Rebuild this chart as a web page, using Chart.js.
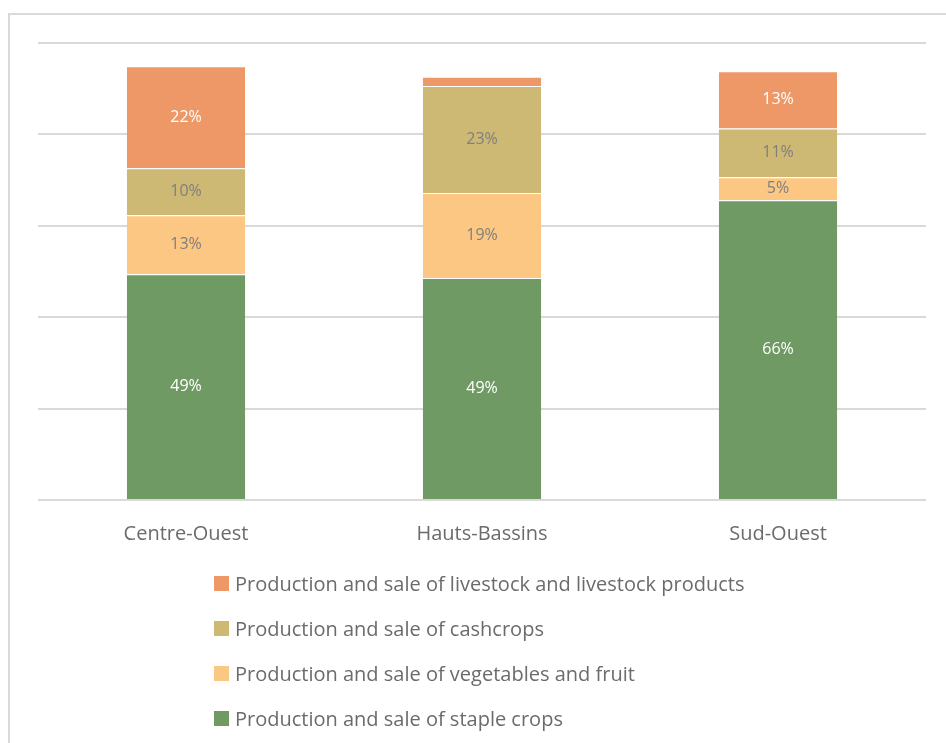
<!DOCTYPE html>
<html>
<head>
<meta charset="utf-8">
<script src="https://cdn.jsdelivr.net/npm/chart.js@4"></script>
<style>
    html, body { margin: 0; padding: 0; background: #fff; width: 946px; height: 743px; overflow: hidden; }
    #frame { position: absolute; left: 8px; top: 13px; width: 980px; height: 780px; border: 2px solid #d9d9d9; box-sizing: border-box; }
    #chartBox { position: absolute; left: 0; top: 0; width: 946px; height: 570px; }
    #legend { position: absolute; left: 214px; top: 561px; font-family: "Open Sans", sans-serif; font-size: 20px; color: #6b6b6b; }
    #legend .item { height: 45px; display: flex; align-items: center; }
    #legend .box { width: 15px; height: 15px; margin-right: 6px; }
</style>
</head>
<body>
<div id="frame"></div>
<div id="chartBox"><canvas id="regionChart"></canvas></div>
<div id="legend"></div>
<script>
// Données (parts estimées, en %)
const regions = ['Centre-Ouest', 'Hauts-Bassins', 'Sud-Ouest'];
const stapleCrops = [49.4, 48.6, 65.6];
const vegetablesFruit = [12.9, 18.6, 5.0];
const cashcrops = [10.3, 23.4, 10.7];
const livestock = [22.3, 2.0, 12.5];
const yTicks = [0, 20, 40, 60, 80, 100];

const seriesNames = [
    'Production and sale of staple crops',
    'Production and sale of vegetables and fruit',
    'Production and sale of cashcrops',
    'Production and sale of livestock and livestock products'
];
const seriesColors = ['#709a63', '#fcc683', '#cdb874', '#ed9866'];
const labelColors = ['#ffffff', '#7f7f7f', '#7f7f7f', '#ffffff'];

// Étiquettes de valeur au centre des barres
const barLabels = {
    id: 'barLabels',
    afterDatasetsDraw(chart) {
        const ctx = chart.ctx;
        ctx.save();
        ctx.font = '16px "Open Sans", sans-serif';
        ctx.textAlign = 'center';
        ctx.textBaseline = 'middle';
        chart.data.datasets.forEach((ds, i) => {
            chart.getDatasetMeta(i).data.forEach((bar, j) => {
                const v = ds.data[j];
                if (v < 4) return;
                ctx.fillStyle = labelColors[i];
                ctx.fillText(Math.round(v) + '%', bar.x, (bar.y + bar.base) / 2);
            });
        });
        ctx.restore();
    }
};

const datasets = [stapleCrops, vegetablesFruit, cashcrops, livestock].map((d, i) => ({
    label: seriesNames[i],
    data: d,
    backgroundColor: seriesColors[i],
    borderColor: '#ffffff',
    borderWidth: { top: 1, bottom: 0, left: 0, right: 0 },
    borderSkipped: false,
    barPercentage: 0.4,
    categoryPercentage: 1
}));

const chart = new Chart(document.getElementById('regionChart').getContext('2d'), {
    type: 'bar',
    data: { labels: regions, datasets: datasets },
    options: {
        responsive: true,
        maintainAspectRatio: false,
        animation: false,
        layout: { padding: { left: 38, right: 20, top: 43, bottom: 10 } },
        plugins: {
            legend: { display: false },
            tooltip: { enabled: false }
        },
        scales: {
            x: {
                stacked: true,
                grid: { display: false },
                border: { display: false },
                ticks: {
                    color: '#6b6b6b',
                    padding: 14,
                    font: { family: '"Open Sans", sans-serif', size: 20 }
                }
            },
            y: {
                stacked: true,
                min: 0,
                max: 100,
                afterBuildTicks: (axis) => { axis.ticks = yTicks.map(v => ({ value: v })); },
                grid: { color: '#d9d9d9', lineWidth: 2, drawTicks: false },
                border: { display: false },
                ticks: { display: false }
            }
        }
    },
    plugins: [barLabels]
});

// Légende verticale (ordre inversé)
const legendEl = document.getElementById('legend');
chart.data.datasets.slice().reverse().forEach(ds => {
    const item = document.createElement('div');
    item.className = 'item';
    item.innerHTML = `<span class="box" style="background:${ds.backgroundColor}"></span>${ds.label}`;
    legendEl.appendChild(item);
});
</script>
</body>
</html>
